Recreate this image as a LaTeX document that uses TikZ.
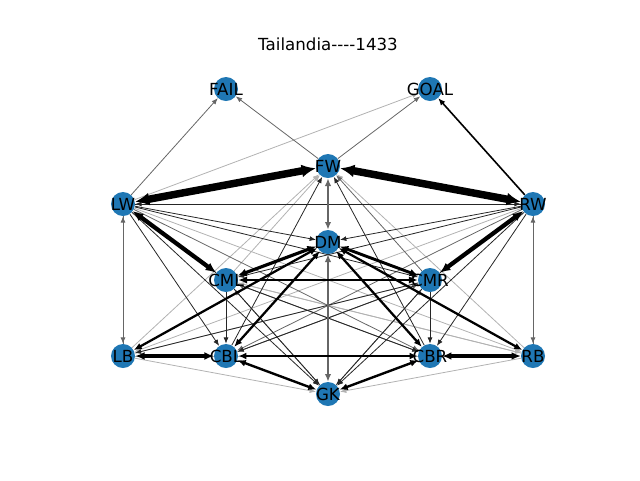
\documentclass[tikz,border=0pt]{standalone}
\usepackage{fontspec}
\setmainfont{DejaVu Sans}
\usetikzlibrary{arrows.meta}
\definecolor{nodeblue}{HTML}{1F77B4}
\pgfdeclarelayer{bg}
\pgfsetlayers{bg,main}

\begin{document}
\begin{tikzpicture}[x=0.75pt,y=-0.75pt,>={Latex[length=4pt 1.2,width=3pt 1.2]},
  player/.style={circle,fill=nodeblue,minimum size=18pt,inner sep=0pt},
  pass/.style={line width=0.6pt}]
\useasboundingbox (0,0) rectangle (640,480);
\node (title) at (328,44) {\fontsize{12.5}{15}\selectfont Tailandia-{}-{}-{}-1433};
\tikzset{every label/.style={font=\fontsize{12.5}{15}\selectfont,inner sep=0pt}}
\node[player,label=center:FAIL] (FAIL) at (226,89) {};
\node[player,label=center:GOAL] (GOAL) at (430,89) {};
\node[player,label=center:FW] (FW) at (328,166) {};
\node[player,label=center:LW] (LW) at (123,204) {};
\node[player,label=center:RW] (RW) at (533,204) {};
\node[player,label=center:DM] (DM) at (328,242) {};
\node[player,label=center:CML] (CML) at (226,280) {};
\node[player,label=center:CMR] (CMR) at (430,280) {};
\node[player,label=center:LB] (LB) at (123,356) {};
\node[player,label=center:CBL] (CBL) at (226,356) {};
\node[player,label=center:CBR] (CBR) at (430,356) {};
\node[player,label=center:RB] (RB) at (533,356) {};
\node[player,label=center:GK] (GK) at (328,394) {};
\begin{pgfonlayer}{bg}
% light passes
\foreach \a/\b in {LW/GOAL, LB/FW, RB/FW, CML/RB, LB/CMR, RB/CML, LW/RB, RW/LB, LB/GK, RB/GK, CML/FW, LB/RB}
  \draw[->,pass,black!30] (\a) -- (\b);
% grey passes
\foreach \a/\b in {LW/FAIL, FW/FAIL, FW/GOAL, LW/CBR, RW/CBL, LW/LB, LB/LW, RW/RB, RB/RW, CMR/FW, CBR/CML, CBL/CMR, GK/CML, GK/CMR}
  \draw[->,pass,black!60] (\a) -- (\b);
% dark passes
\foreach \a/\b in {LW/RW, RW/LW, LW/DM, RW/DM, LW/CMR, RW/CML, LW/GK, RW/GK, LW/CBL, RW/CBR, CBL/FW, CBR/FW, CML/CBL, CMR/CBR, CML/GK, CMR/GK, CML/CBR, CMR/CBL, CMR/LB, CML/LW, CMR/RW}
  \draw[->,pass,black!85] (\a) -- (\b);
% grey strong
\draw[<->,line width=1.5pt,black!60] (FW) -- (DM);
\draw[<->,line width=1.5pt,black!60] (DM) -- (GK);
% strong
\draw[->,line width=1.2pt] (RW) -- (GOAL);
\draw[<->,line width=1.7pt] (DM) -- (LB);
\draw[<->,line width=1.7pt] (DM) -- (CBL);
\draw[<->,line width=1.7pt] (DM) -- (CBR);
\draw[<->,line width=1.7pt] (DM) -- (RB);
\draw[<->,line width=1.8pt] (CBL) -- (CBR);
\draw[<->,line width=1.8pt] (CBL) -- (GK);
\draw[<->,line width=1.8pt] (CBR) -- (GK);
\draw[<->,line width=2.4pt] (DM) -- (CML);
\draw[<->,line width=2.2pt] (DM) -- (CMR);
\draw[<->,line width=2.2pt] (CML) -- (CMR);
\draw[<->,line width=2.5pt] (LB) -- (CBL);
\draw[<->,line width=2.3pt] (CBR) -- (RB);
\draw[<->,line width=3.2pt] (LW) -- (CML);
\draw[<->,line width=3.2pt] (RW) -- (CMR);
\draw[<->,line width=5.6pt] (LW) -- (FW);
\draw[<->,line width=5.6pt] (FW) -- (RW);
\end{pgfonlayer}
\end{tikzpicture}
\end{document}
